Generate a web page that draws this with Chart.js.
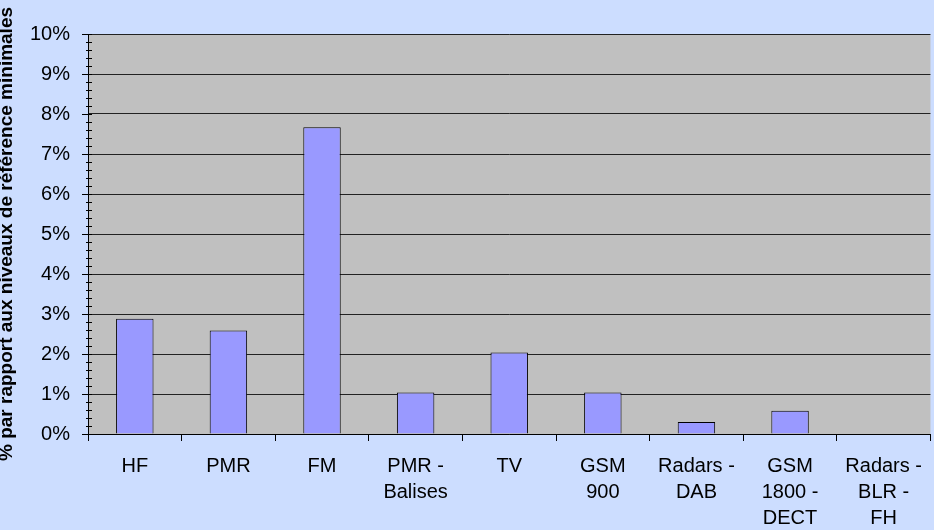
<!DOCTYPE html>
<html>
<head>
<meta charset="utf-8">
<script src="https://cdn.jsdelivr.net/npm/chart.js@4/dist/chart.umd.min.js"></script>
<style>
  html, body { margin: 0; padding: 0; background: #ccddff; }
  #wrap { width: 934px; height: 530px; }
</style>
</head>
<body>
<div id="wrap"><canvas id="grafica"></canvas></div>
<script>
// Données
var categories = [['HF'], ['PMR'], ['FM'], ['PMR -', 'Balises'], ['TV'],
    ['GSM', '900'], ['Radars -', 'DAB'], ['GSM', '1800 -', 'DECT'],
    ['Radars -', 'BLR -', 'FH']];
var valeurs = [2.88, 2.59, 7.67, 1.04, 2.04, 1.04, 0.30, 0.58, 0];
var titreAxeY = '% par rapport aux niveaux de référence minimales';
var yMax = 10;

// Fond gris de la zone de tracé
var fondZone = {
    id: 'fondZone',
    beforeDraw: function (chart) {
        var a = chart.chartArea;
        var ctx = chart.ctx;
        ctx.save();
        ctx.fillStyle = '#c0c0c0';
        ctx.fillRect(a.left, a.top, a.right - a.left, a.bottom - a.top);
        ctx.restore();
    }
};

// Petites graduations secondaires sur l'axe vertical (tous les 0,2 %)
var graduations = {
    id: 'graduations',
    afterDraw: function (chart) {
        var y = chart.scales.y;
        var ctx = chart.ctx;
        var x0 = chart.chartArea.left;
        ctx.save();
        ctx.strokeStyle = '#000';
        ctx.lineWidth = 1;
        for (var i = 0; i <= yMax * 5; i++) {
            var py = Math.round(y.getPixelForValue(i / 5)) + 0.5;
            var debut = (i % 5 === 0) ? x0 - 6 : x0 - 2;
            ctx.beginPath();
            ctx.moveTo(debut, py);
            ctx.lineTo(x0 + 4, py);
            ctx.stroke();
        }
        ctx.restore();
    }
};

var chart = new Chart(document.getElementById('grafica').getContext('2d'), {
    type: 'bar',
    data: {
        labels: categories,
        datasets: [{
            data: valeurs,
            backgroundColor: '#9999ff',
            borderColor: '#000',
            borderWidth: 1,
            categoryPercentage: 1,
            barPercentage: 0.4
        }]
    },
    options: {
        responsive: true,
        maintainAspectRatio: false,
        animation: false,
        layout: { padding: { top: 34, right: 0, left: 0, bottom: 0 } },
        plugins: {
            legend: { display: false },
            tooltip: { enabled: false }
        },
        scales: {
            x: {
                offset: true,
                grid: {
                    offset: true,
                    drawOnChartArea: false,
                    color: '#000',
                    tickLength: 7
                },
                border: { color: '#000' },
                ticks: {
                    color: '#000',
                    maxRotation: 0,
                    autoSkip: false,
                    padding: 12,
                    font: { family: 'Liberation Sans, Arial', size: 20, lineHeight: 1.3 }
                },
                afterFit: function (scale) { scale.height = 96; }
            },
            y: {
                min: 0,
                max: yMax,
                ticks: {
                    stepSize: 1,
                    color: '#000',
                    padding: 12,
                    font: { family: 'Liberation Sans, Arial', size: 20 },
                    callback: function (v) { return v + '%'; }
                },
                grid: {
                    color: '#222',
                    tickColor: 'transparent',
                    tickLength: 6
                },
                border: { color: '#000' },
                title: {
                    display: true,
                    text: titreAxeY,
                    color: '#000',
                    padding: { top: 0, bottom: 0 },
                    font: { family: 'Liberation Sans, Arial', size: 19, weight: 'bold', lineHeight: 0.75 }
                },
                afterFit: function (scale) { scale.width = 88; }
            }
        }
    },
    plugins: [fondZone, graduations]
});
</script>
</body>
</html>
